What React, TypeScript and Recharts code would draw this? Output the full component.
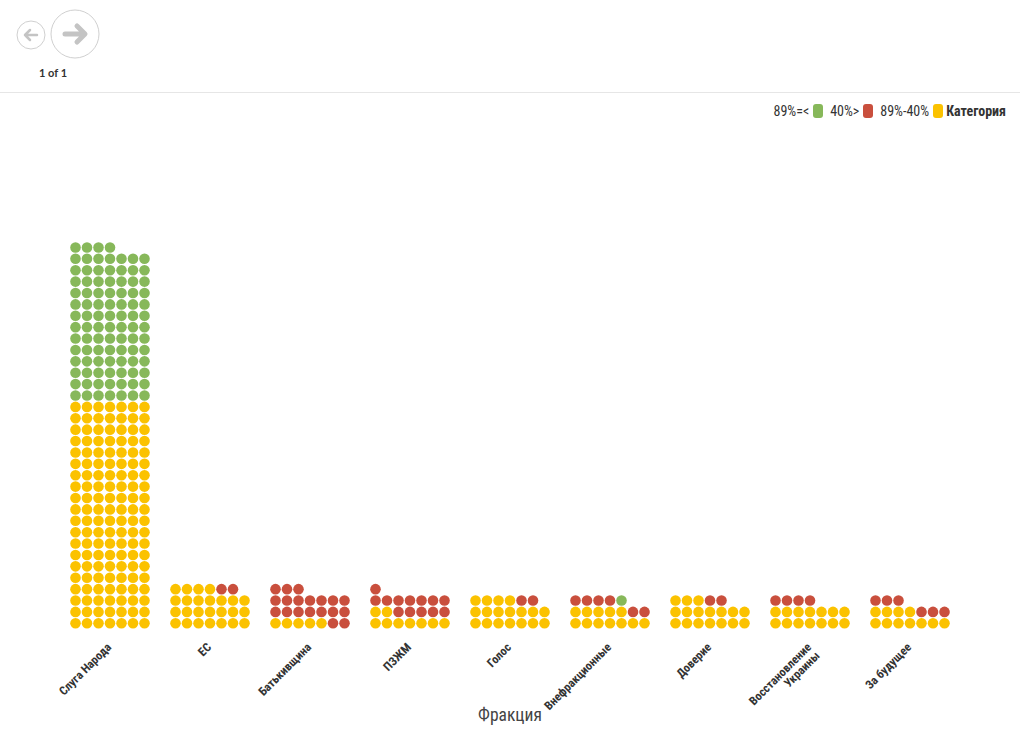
import { ScatterChart, Scatter, XAxis, YAxis, Label } from 'recharts';

const factions = [
  'Слуга Народа',
  'ЕС',
  'Батькивщина',
  'ПЗЖМ',
  'Голос',
  'Внефракционные',
  'Доверие',
  'Восстановление Украины',
  'За будущее',
];
// dots per faction, filled bottom-left row by row: yellow, then red, then green
const yellowCounts = [140, 25, 5, 9, 18, 12, 17, 14, 11];
const redCounts = [0, 2, 19, 13, 2, 6, 2, 4, 6];
const greenCounts = [95, 0, 0, 0, 0, 1, 0, 0, 0];

const legendItems = [
  { label: '89%=<', color: '#87b85a' },
  { label: '40%>', color: '#c94f3d' },
  { label: '89%-40%', color: '#fbc200' },
];

const PER_ROW = 7;
const COL_STEP = 0.115;

type Pt = { x: number; y: number };
const yellowPts: Pt[] = [];
const redPts: Pt[] = [];
const greenPts: Pt[] = [];

factions.forEach((_, f) => {
  let idx = 0;
  const push = (arr: Pt[], n: number) => {
    for (let k = 0; k < n; k++) {
      const row = Math.floor(idx / PER_ROW);
      const col = idx % PER_ROW;
      arr.push({ x: f + (col - 3) * COL_STEP, y: row });
      idx++;
    }
  };
  push(yellowPts, yellowCounts[f]);
  push(redPts, redCounts[f]);
  push(greenPts, greenCounts[f]);
});

const condensed = "'Roboto Condensed', 'Liberation Sans Narrow', 'DejaVu Sans Condensed', Roboto, sans-serif";

const dot = (color: string) => (props: any) => (
  <circle cx={props.cx} cy={props.cy} r={5.3} fill={color} />
);

const FactionTick = ({ x, y, payload }: any) => {
  const name = factions[payload.value] ?? '';
  const lines = name.length > 16 ? name.split(' ') : [name];
  return (
    <g transform={`translate(${x + 2},${y + 11})`}>
      <text
        transform="rotate(-45)"
        textAnchor="end"
        fontSize={12}
        fontWeight="bold"
        fill="#333"
        fontFamily={condensed}
      >
        {lines.map((l, i) => (
          <tspan key={i} x={0} dy={i === 0 ? 0 : 12}>
            {l}
          </tspan>
        ))}
      </text>
    </g>
  );
};

export default function App() {
  return (
    <div style={{ position: 'absolute', left: 0, top: 0, width: 1020, height: 743, background: '#fff' }}>
      <svg width={1020} height={95} style={{ position: 'absolute', left: 0, top: 0 }}>
        <circle cx={31} cy={35} r={14} fill="none" stroke="#d0d0d0" />
        <path d="M37 35 H25 M30 30 L25 35 L30 40" fill="none" stroke="#c4c4c4" strokeWidth={2.5} strokeLinecap="round" strokeLinejoin="round" />
        <circle cx={75} cy={34} r={24} fill="none" stroke="#d0d0d0" />
        <path d="M65 34 H84 M77 26 L85 34 L77 42" fill="none" stroke="#c4c4c4" strokeWidth={5} strokeLinecap="round" strokeLinejoin="round" />
        <text x={53} y={77} textAnchor="middle" fontSize={11} fontWeight="bold" fill="#333" fontFamily="Lato, sans-serif">
          1 of 1
        </text>
        <line x1={0} x2={1020} y1={92.5} y2={92.5} stroke="#e6e6e6" />
      </svg>

      <div
        style={{
          position: 'absolute',
          right: 14,
          top: 103,
          display: 'flex',
          alignItems: 'center',
          fontFamily: condensed,
          fontSize: 14,
          color: '#333',
        }}
      >
        {legendItems.map((it) => (
          <span key={it.label} style={{ display: 'flex', alignItems: 'center', marginRight: 7 }}>
            <span>{it.label}</span>
            <span
              style={{
                display: 'inline-block',
                width: 10,
                height: 14,
                borderRadius: 3,
                background: it.color,
                marginLeft: 4,
              }}
            />
          </span>
        ))}
        <span style={{ fontWeight: 'bold', marginLeft: -4 }}>Категория</span>
      </div>

      <div style={{ position: 'absolute', left: 0, top: 0 }}>
        <ScatterChart width={1020} height={743} margin={{ top: 162, right: 60, bottom: 14, left: 60 }}>
          <XAxis
            type="number"
            dataKey="x"
            domain={[-0.5, 8.5]}
            ticks={[0, 1, 2, 3, 4, 5, 6, 7, 8]}
            interval={0}
            axisLine={false}
            tickLine={false}
            height={100}
            tick={<FactionTick />}
          >
            <Label value="Фракция" position="insideBottom" offset={8} fontSize={17.5} fill="#444" fontFamily={condensed} />
          </XAxis>
          <YAxis type="number" dataKey="y" domain={[-0.5, 40.5]} hide />
          <Scatter data={yellowPts} shape={dot('#fbc200')} isAnimationActive={false} />
          <Scatter data={redPts} shape={dot('#c94f3d')} isAnimationActive={false} />
          <Scatter data={greenPts} shape={dot('#87b85a')} isAnimationActive={false} />
        </ScatterChart>
      </div>
    </div>
  );
}
